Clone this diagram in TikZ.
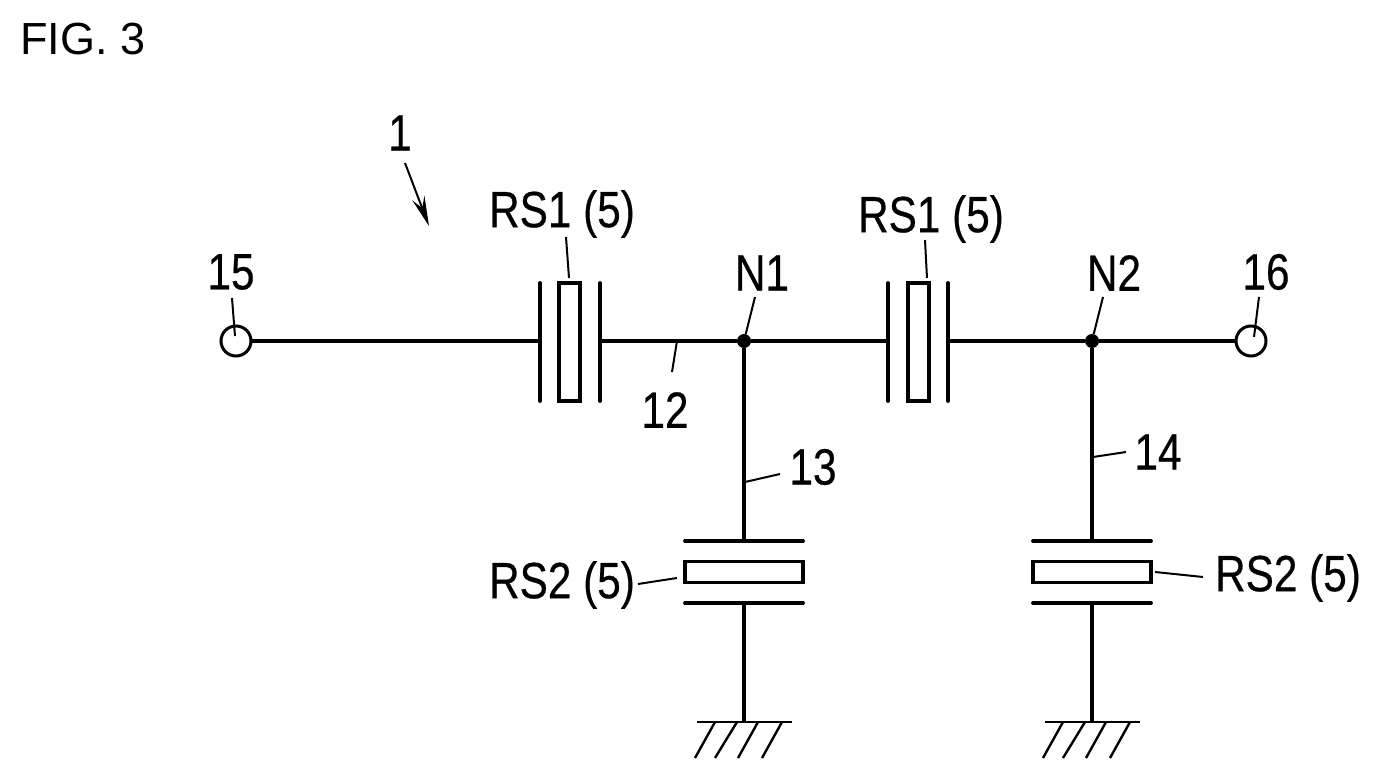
\documentclass[tikz,border=0pt]{standalone}
\usepackage{fontspec}
\setmainfont{Liberation Sans}
\newfontfamily\labfont[FakeBold=0.5]{Liberation Sans}
\usetikzlibrary{arrows.meta}
\tikzset{
  wire/.style={line width=3.8pt,line cap=butt},
  plate/.style={line width=3.8pt,line cap=round},
  leader/.style={line width=2pt},
  gnd/.style={line width=2.4pt},
  reso/.style={draw,line width=3.2pt,fill=white,inner sep=0pt,outer sep=0pt},
  term/.style={circle,draw,line width=3pt,fill=white,minimum size=30pt,inner sep=0pt,outer sep=0pt},
  junc/.style={circle,fill=black,minimum size=14pt,inner sep=0pt,outer sep=0pt},
  lab/.style={inner sep=0pt,outer sep=0pt,font=\labfont\fontsize{51}{51}\selectfont,xscale=.83},
}
\begin{document}
\begin{tikzpicture}[x=1pt,y=-1pt]
\useasboundingbox (0,0) rectangle (1379,781);
% junctions and terminals
\node[term] (t15) at (236,341) {};
\node[term] (t16) at (1251,341) {};
\node[junc] (n1) at (744,341) {};
\node[junc] (n2) at (1092,341) {};
% series resonators
\coordinate (p1at) at (540,283); \coordinate (p1ab) at (540,401);
\coordinate (p1bt) at (600,283); \coordinate (p1bb) at (600,401);
\coordinate (p2at) at (888,283); \coordinate (p2ab) at (888,401);
\coordinate (p2bt) at (948,283); \coordinate (p2bb) at (948,401);
\coordinate (p1a) at (540,341); \coordinate (p1b) at (600,341);
\coordinate (p2a) at (888,341); \coordinate (p2b) at (948,341);
\node[reso,minimum width=21pt,minimum height=118pt] (r1) at (569.5,342) {};
\node[reso,minimum width=21pt,minimum height=118pt] (r2) at (918.5,342) {};
\draw[plate] (p1at) -- (p1ab);
\draw[plate] (p1bt) -- (p1bb);
\draw[plate] (p2at) -- (p2ab);
\draw[plate] (p2bt) -- (p2bb);
% shunt resonators
\coordinate (q1at) at (685,541); \coordinate (q1ar) at (803,541);
\coordinate (q1bt) at (685,603); \coordinate (q1br) at (803,603);
\coordinate (q2at) at (1033,541); \coordinate (q2ar) at (1151,541);
\coordinate (q2bt) at (1033,603); \coordinate (q2br) at (1151,603);
\coordinate (q1a) at (744,541); \coordinate (q1b) at (744,603);
\coordinate (q2a) at (1092,541); \coordinate (q2b) at (1092,603);
\node[reso,minimum width=118pt,minimum height=21pt] (r3) at (744,572) {};
\node[reso,minimum width=118pt,minimum height=21pt] (r4) at (1092,572) {};
\draw[plate] (q1at) -- (q1ar);
\draw[plate] (q1bt) -- (q1br);
\draw[plate] (q2at) -- (q2ar);
\draw[plate] (q2bt) -- (q2br);
% grounds
\coordinate (g1) at (744,722); \coordinate (g2) at (1092,722);
\foreach \gx in {744,1092}{
  \draw[gnd,line width=2.8pt] (\gx-47,722) -- (\gx+48,722);
  \draw[gnd] (\gx-29,722) -- (\gx-49,758);
  \draw[gnd] (\gx-7,722) -- (\gx-29,758);
  \draw[gnd] (\gx+14,722) -- (\gx-6,758);
  \draw[gnd] (\gx+38,722) -- (\gx+18,758);
}
% wires
\draw[wire] (t15) -- (p1a);
\draw[wire] (p1b) -- (n1);
\draw[wire] (n1) -- (p2a);
\draw[wire] (p2b) -- (n2);
\draw[wire] (n2) -- (t16);
\draw[wire] (n1) -- (q1a);
\draw[wire] (q1b) -- (g1);
\draw[wire] (n2) -- (q2a);
\draw[wire] (q2b) -- (g2);
% labels
\node[inner sep=0pt,anchor=center,font=\fontsize{45}{45}\selectfont] (fig) at (83,39) {FIG. 3};
\node[lab] (l1) at (400,133) {1};
\node[lab] (l15) at (231,272) {15};
\node[lab] (l16) at (1266,272) {16};
\node[lab] (ln1) at (762,273) {N1};
\node[lab] (ln2) at (1114,273) {N2};
\node[lab] (lr1) at (562,214) {RS1 (5)};
\node[lab] (lr2) at (931,219) {RS1 (5)};
\node[lab] (lr3) at (562,585) {RS2 (5)};
\node[lab] (lr4) at (1288,578) {RS2 (5)};
\node[lab] (l12) at (665,410) {12};
\node[lab] (l13) at (813,467) {13};
\node[lab] (l14) at (1158,452) {14};
% leaders
\coordinate (c1a) at (405,163); \coordinate (c1b) at (429,226);
\draw[leader,-{Stealth[length=30pt,width=13pt,inset=11pt]}] (c1a) -- (c1b);
\coordinate (cr1a) at (566,237); \coordinate (cr1b) at (569,278);
\draw[leader] (cr1a) -- (cr1b);
\coordinate (cr2a) at (925,240); \coordinate (cr2b) at (927,278);
\draw[leader] (cr2a) -- (cr2b);
\coordinate (c15a) at (232,298); \coordinate (c15b) at (235,336);
\draw[leader] (c15a) -- (c15b);
\coordinate (c16a) at (1259,297); \coordinate (c16b) at (1254,337);
\draw[leader] (c16a) -- (c16b);
\coordinate (cn1a) at (755,297);
\draw[leader] (cn1a) -- (n1);
\coordinate (cn2a) at (1103,297);
\draw[leader] (cn2a) -- (n2);
\coordinate (c12a) at (677,341); \coordinate (c12b) at (672,372);
\draw[leader] (c12a) -- (c12b);
\coordinate (c13a) at (745,482); \coordinate (c13b) at (780,474);
\draw[leader] (c13a) -- (c13b);
\coordinate (c14a) at (1093,457); \coordinate (c14b) at (1126,452);
\draw[leader] (c14a) -- (c14b);
\coordinate (cr3a) at (638,584); \coordinate (cr3b) at (677,578);
\draw[leader] (cr3a) -- (cr3b);
\coordinate (cr4a) at (1155,572); \coordinate (cr4b) at (1203,577);
\draw[leader] (cr4a) -- (cr4b);
\end{tikzpicture}
\end{document}
